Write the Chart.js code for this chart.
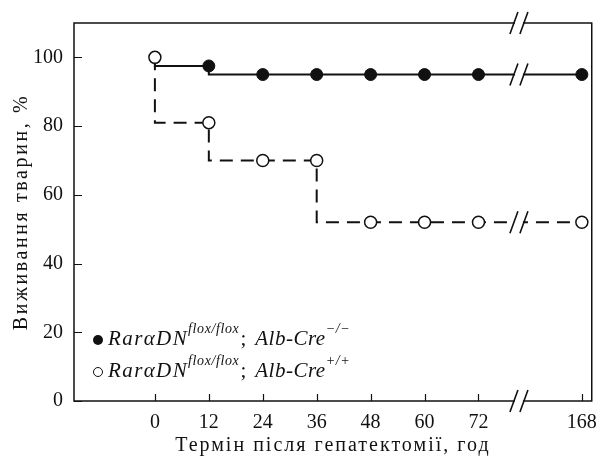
<!DOCTYPE html>
<html><head><meta charset="utf-8">
<script src="https://cdn.jsdelivr.net/npm/chart.js@4.4.1/dist/chart.umd.min.js"></script>
<style>
html,body{margin:0;padding:0;background:#fff;}
#wrap{position:relative;width:607px;height:459px;overflow:hidden;}
#c{position:absolute;left:0;top:0;}
.leg{position:absolute;left:108px;font-family:"Liberation Serif",serif;font-size:21px;color:#111;white-space:nowrap;line-height:21px;height:21px;}
.leg i{font-style:italic;}
.leg .m{letter-spacing:1.4px;}
.leg .sp{font-style:italic;font-size:14px;letter-spacing:0.6px;position:relative;top:-12px;}
.leg .sc{margin-left:1px;margin-right:9px;}
.mk{position:absolute;left:93px;width:10px;height:10px;border-radius:50%;box-sizing:border-box;}
</style>
</head><body>
<div id="wrap">
<canvas id="c" width="607" height="459"></canvas>
<span class="mk" style="top:335px;background:#111;"></span>
<span class="mk" style="top:367px;border:1.4px solid #111;background:#fff;"></span>
<div class="leg" style="top:328px;"><i class="m">Rar&alpha;DN</i><span class="sp">flox/flox</span><span class="sc">;</span><i class="m" style="letter-spacing:0.5px">Alb-Cre</i><span class="sp">&minus;/&minus;</span></div>
<div class="leg" style="top:360px;"><i class="m">Rar&alpha;DN</i><span class="sp">flox/flox</span><span class="sc">;</span><i class="m" style="letter-spacing:0.5px">Alb-Cre</i><span class="sp">+/+</span></div>
</div>
<script>
// ---- data ----
const hours = [0, 12, 24, 36, 48, 60, 72, 168];
const survivalKO = [100, 97.5, 95, 95, 95, 95, 95, 95];   // RaraDN flox/flox; Alb-Cre -/-
const survivalWT = [100, 81, 70, 70, 52, 52, 52, 52];     // RaraDN flox/flox; Alb-Cre +/+
const xTickLabels = ['0', '12', '24', '36', '48', '60', '72', '168'];
const yTickValues = [0, 20, 40, 60, 80, 100];
const xTitle = 'Термін після гепатектомії, год';
const yTitle = 'Виживання тварин, %';

// broken x axis: the span 72..168 h is compressed
const BREAK_FROM = 72, BREAK_TO = 168, BREAK_SPAN = 23, BREAK_AT = 9;
function axisX(h) {
  return h <= BREAK_FROM ? h : BREAK_FROM + (h - BREAK_FROM) * BREAK_SPAN / (BREAK_TO - BREAK_FROM);
}
const breakPos = BREAK_FROM + BREAK_AT;

const FONT = '"Liberation Serif", "DejaVu Serif", serif';
const INK = '#111';

function spaced(scale, px) {
  if (scale._spaced) return;
  scale._spaced = true;
  const dt = scale.drawTitle.bind(scale);
  scale.drawTitle = function (...args) {
    const ctx = this.ctx;
    ctx.save();
    ctx.letterSpacing = px + 'px';
    dt(...args);
    ctx.restore();
  };
}

const framePlugin = {
  id: 'frame',
  afterLayout(chart) {
    spaced(chart.scales.x, 2);
    spaced(chart.scales.y, 2.6);
  },
  afterDatasetsDraw(chart) {
    const {ctx, chartArea: a, scales: {x, y}} = chart;
    ctx.save();
    ctx.strokeStyle = INK;
    ctx.lineWidth = 1.5;
    ctx.strokeRect(a.left, a.top, a.right - a.left, a.bottom - a.top);
    // inward ticks
    ctx.lineWidth = 1.2;
    ctx.beginPath();
    yTickValues.forEach(v => {
      const py = Math.round(y.getPixelForValue(v)) + 0.5;
      ctx.moveTo(a.left, py); ctx.lineTo(a.left + 8, py);
    });
    hours.forEach(h => {
      const px = Math.round(x.getPixelForValue(axisX(h))) + 0.5;
      ctx.moveTo(px, a.bottom); ctx.lineTo(px, a.bottom - 7);
    });
    ctx.stroke();
    // axis-break marks
    const bx = x.getPixelForValue(breakPos);
    const marks = [a.top, a.bottom,
      y.getPixelForValue(survivalKO[survivalKO.length - 2]),
      y.getPixelForValue(survivalWT[survivalWT.length - 2])];
    marks.forEach(my => {
      ctx.fillStyle = '#fff';
      ctx.fillRect(bx - 4, my - 2, 8, 4);
      ctx.strokeStyle = INK;
      ctx.lineWidth = 1.6;
      ctx.beginPath();
      [-5, 5].forEach(o => {
        ctx.moveTo(bx + o - 4, my + 11);
        ctx.lineTo(bx + o + 4, my - 11);
      });
      ctx.stroke();
    });
    ctx.restore();
  }
};

new Chart(document.getElementById('c'), {
  type: 'line',
  data: {
    datasets: [
      {
        label: 'RaraDN flox/flox; Alb-Cre -/-',
        data: hours.map((h, i) => ({x: axisX(h), y: survivalKO[i]})),
        stepped: 'after',
        borderColor: INK,
        borderWidth: 2,
        pointRadius: c => (c.dataIndex === 0 ? 0 : 6),
        pointBackgroundColor: INK,
        pointBorderColor: INK,
        pointBorderWidth: 1,
        order: 1
      },
      {
        label: 'RaraDN flox/flox; Alb-Cre +/+',
        data: hours.map((h, i) => ({x: axisX(h), y: survivalWT[i]})),
        stepped: 'after',
        borderColor: INK,
        borderWidth: 2,
        borderDash: [13, 8],
        pointRadius: 6,
        pointBackgroundColor: '#fff',
        pointBorderColor: INK,
        pointBorderWidth: 1.5,
        order: 0
      }
    ]
  },
  options: {
    responsive: false,
    animation: false,
    devicePixelRatio: 1,
    layout: {padding: {top: 21, right: 6, left: 0, bottom: 0}},
    plugins: {legend: {display: false}, tooltip: {enabled: false}},
    scales: {
      x: {
        type: 'linear', min: -18, max: 97.2,
        grid: {display: false, drawTicks: false},
        border: {display: false},
        afterBuildTicks: s => { s.ticks = hours.map(h => ({value: axisX(h)})); },
        afterFit: s => { s.height = 58; },
        ticks: {
          callback: (v, i) => xTickLabels[i],
          autoSkip: false, maxRotation: 0, padding: 10,
          color: INK, font: {family: FONT, size: 20}
        },
        title: {display: true, text: xTitle, color: INK, font: {family: FONT, size: 20},
                padding: {top: 0, bottom: 1}}
      },
      y: {
        min: 0, max: 110,
        grid: {display: false, drawTicks: false},
        border: {display: false},
        afterBuildTicks: s => { s.ticks = yTickValues.map(v => ({value: v})); },
        afterFit: s => { s.width = 74; },
        ticks: {padding: 11, color: INK, font: {family: FONT, size: 20}},
        title: {display: true, text: yTitle, color: INK, font: {family: FONT, size: 20},
                padding: {top: 10, bottom: 0}}
      }
    }
  },
  plugins: [framePlugin]
});
</script>
</body></html>
